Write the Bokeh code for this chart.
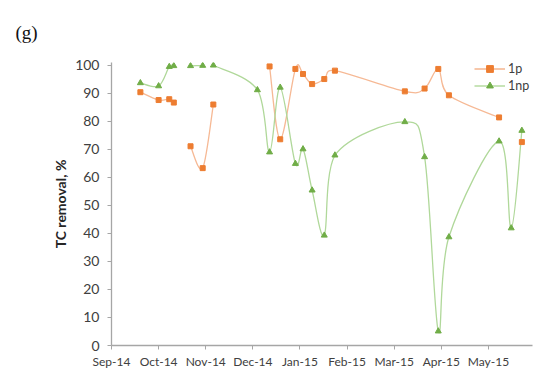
import numpy as np
import pandas as pd
from bokeh.plotting import figure
from bokeh.models import (ColumnDataSource, FixedTicker, DatetimeTickFormatter, Range1d,
                          Legend, LegendItem, Title)
from bokeh.embed import file_html
from bokeh.resources import INLINE

# ---------------- data ----------------
dates_1p = ["2014-09-20", "2014-10-02", "2014-10-09", "2014-10-12", "2014-10-17",
            "2014-10-23", "2014-10-31", "2014-11-07", "2014-12-06", "2014-12-14",
            "2014-12-21", "2014-12-31", "2015-01-05", "2015-01-11", "2015-01-19",
            "2015-01-26", "2015-03-13", "2015-03-26", "2015-04-04", "2015-04-11",
            "2015-05-14", "2015-05-22", "2015-05-29"]
vals_1p = [90.4, 87.6, 87.9, 86.7, None,
           71.1, 63.3, 86.0, None, 99.6,
           73.6, 98.7, 96.9, 93.3, 95.1,
           98.1, 90.7, 91.7, 98.7, 89.3,
           81.4, None, 72.6]

dates_1np = ["2014-09-20", "2014-10-02", "2014-10-09", "2014-10-12", "2014-10-17",
             "2014-10-23", "2014-10-31", "2014-11-03", "2014-11-07", "2014-12-06",
             "2014-12-14", "2014-12-21", "2014-12-31", "2015-01-05", "2015-01-11",
             "2015-01-19", "2015-01-26", "2015-03-13", "2015-03-26", "2015-04-04",
             "2015-04-11", "2015-05-14", "2015-05-22", "2015-05-29"]
vals_1np = [93.7, 92.6, 99.5, 99.8, None,
            99.8, 99.9, None, 100.0, 91.2,
            69.0, 92.1, 64.9, 70.1, 55.4,
            39.3, 67.9, 79.8, 67.3, 5.1,
            38.7, 72.9, 41.9, 76.7]

axis_start = "2014-09-01"
axis_end = "2015-06-05"
tick_step_days = 31
tick_labels = ["Sep-14", "Oct-14", "Nov-14", "Dec-14", "Jan-15",
               "Feb-15", "Mar-15", "Apr-15", "May-15"]
y_ticks = [0, 10, 20, 30, 40, 50, 60, 70, 80, 90, 100]

ORANGE, ORANGE_LINE = "#ED7D31", "#F6B995"
GREEN, GREEN_LINE = "#70AD47", "#B0D89A"
AXIS_COL = "#A6A6A6"
TXT = "#404040"
FONT = "Lato"


def to_ms(d):
    return pd.Timestamp(d).value / 1e6


def segments(dates, vals):
    segs, cur = [], []
    for d, v in zip(dates, vals):
        if v is None:
            if cur:
                segs.append(cur)
            cur = []
        else:
            cur.append((to_ms(d), v))
    if cur:
        segs.append(cur)
    return segs


def bezier_source(dates, vals):
    cols = {k: [] for k in ["x0", "y0", "x1", "y1", "cx0", "cy0", "cx1", "cy1"]}
    for seg in segments(dates, vals):
        pts = np.array(seg, dtype=float)
        n = len(pts)
        for i in range(n - 1):
            p0 = pts[i - 1] if i > 0 else pts[i]
            p1, p2 = pts[i], pts[i + 1]
            p3 = pts[i + 2] if i + 2 < n else pts[i + 1]
            c1 = p1 + (p2 - p0) / 6.0
            c2 = p2 - (p3 - p1) / 6.0
            c1[0] = min(max(c1[0], p1[0]), p2[0])
            c2[0] = min(max(c2[0], p1[0]), p2[0])
            cols["x0"].append(p1[0]); cols["y0"].append(p1[1])
            cols["x1"].append(p2[0]); cols["y1"].append(p2[1])
            cols["cx0"].append(c1[0]); cols["cy0"].append(c1[1])
            cols["cx1"].append(c2[0]); cols["cy1"].append(c2[1])
    return ColumnDataSource(cols)


def point_source(dates, vals):
    xs = [to_ms(d) for d, v in zip(dates, vals) if v is not None]
    ys = [v for v in vals if v is not None]
    return ColumnDataSource(dict(x=xs, y=ys))


x0 = to_ms(axis_start)
x1 = to_ms(axis_end)
day_ms = 86400000.0
ticks = [x0 + k * tick_step_days * day_ms for k in range(len(tick_labels))]

p = figure(width=542, height=375, x_axis_type="datetime",
           x_range=Range1d(x0, x1), y_range=Range1d(0, 101),
           output_backend="svg", toolbar_location=None,
           min_border_left=111, min_border_right=10,
           min_border_top=62, min_border_bottom=30)
p.outline_line_color = None
p.xgrid.grid_line_color = None
p.ygrid.grid_line_color = None
p.background_fill_color = "white"

p.title = Title(text="(g)", align="left", offset=-96, standoff=38, vertical_align="middle",
                text_font="Liberation Serif", text_font_size="19px",
                text_font_style="normal", text_color="#111111")

# lines
p.bezier(x0="x0", y0="y0", x1="x1", y1="y1", cx0="cx0", cy0="cy0", cx1="cx1", cy1="cy1",
         source=bezier_source(dates_1p, vals_1p), line_color=ORANGE_LINE, line_width=1.3)
p.bezier(x0="x0", y0="y0", x1="x1", y1="y1", cx0="cx0", cy0="cy0", cx1="cx1", cy1="cy1",
         source=bezier_source(dates_1np, vals_1np), line_color=GREEN_LINE, line_width=1.3)

src1 = point_source(dates_1p, vals_1p)
src2 = point_source(dates_1np, vals_1np)
s1 = p.scatter("x", "y", source=src1, marker="square",
               size=5, fill_color=ORANGE, line_color=ORANGE)
s2 = p.scatter("x", "y", source=src2, marker="triangle",
               size=6, fill_color=GREEN, line_color=GREEN)

# single-point line renderers (draw nothing on the plot) used for the legend line swatch
l1 = p.line(x=src1.data["x"][:1], y=src1.data["y"][:1], line_color=ORANGE_LINE, line_width=1.6)
l2 = p.line(x=src2.data["x"][:1], y=src2.data["y"][:1], line_color=GREEN_LINE, line_width=1.4)

legend = Legend(items=[LegendItem(label="1p", renderers=[l1, s1]),
                       LegendItem(label="1np", renderers=[l2, s2])],
                location=(363, 251), orientation="vertical",
                glyph_width=31, glyph_height=17, label_height=17, label_width=20,
                label_standoff=3, spacing=0, padding=0, margin=0,
                border_line_color=None, background_fill_alpha=0,
                label_text_font=FONT, label_text_font_size="12.5px",
                label_text_color=TXT)
p.add_layout(legend, "center")

# axes
p.xaxis.ticker = FixedTicker(ticks=ticks)
p.xaxis.formatter = DatetimeTickFormatter(days="%b-%y", months="%b-%y", years="%b-%y",
                                          context=None)
p.xaxis.major_label_overrides = {t: lab for t, lab in zip(ticks, tick_labels)}
p.yaxis.ticker = FixedTicker(ticks=y_ticks)

for ax in (p.xaxis, p.yaxis):
    ax.axis_line_color = AXIS_COL
    ax.axis_line_width = 1.3
    ax.major_tick_line_color = AXIS_COL
    ax.major_tick_in = 0
    ax.major_tick_out = 4
    ax.minor_tick_line_color = None
    ax.major_label_text_font = FONT
    ax.major_label_text_color = TXT

p.xaxis.major_label_text_font_size = "12px"
p.xaxis.major_label_standoff = 4
p.yaxis.major_label_text_font_size = "14px"
p.yaxis.major_label_standoff = 8

p.yaxis.axis_label = "TC removal, %"
p.yaxis.axis_label_text_font = FONT
p.yaxis.axis_label_text_font_style = "bold"
p.yaxis.axis_label_text_font_size = "14px"
p.yaxis.axis_label_text_color = "#262626"
p.yaxis.axis_label_standoff = 3

open("out.html", "w").write(file_html(p, INLINE))
